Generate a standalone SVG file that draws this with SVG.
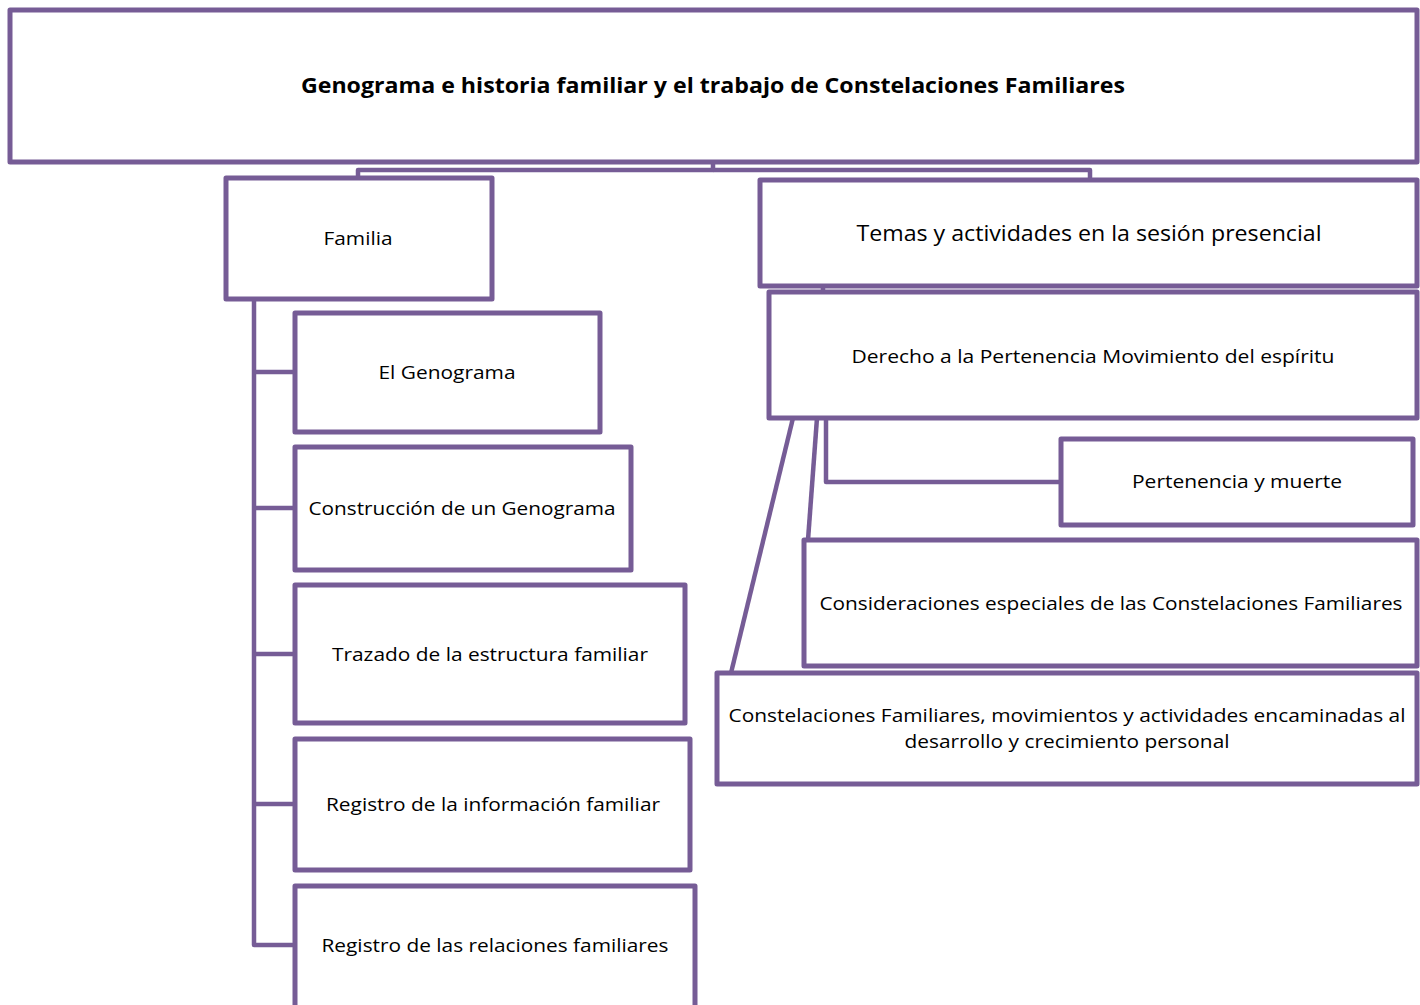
<svg xmlns="http://www.w3.org/2000/svg" width="1420" height="1005" viewBox="0 0 1420 1005">
<style>
.box{fill:#fff;stroke:#765C96;stroke-width:5;stroke-linejoin:round}
.con{fill:none;stroke:#765C96;stroke-width:4.5;stroke-linejoin:round}
.t{font-family:"Open Sans","Liberation Sans",sans-serif;font-size:19px;fill:#000;text-anchor:middle}
.b{font-weight:bold;font-size:22px}
.l{font-size:21.5px}
</style>
<rect width="1420" height="1005" fill="#fff"/>
<g id="connectors">
<path class="con" d="M713,162 V170 H358 V178"/>
<path class="con" d="M713,170 H1090 V180"/>
<path class="con" d="M823,286 V292"/>
<path class="con" d="M254,299 V945 H295"/>
<path class="con" d="M254,372 H295 M254,508 H295 M254,654 H295 M254,804 H295"/>
<path class="con" d="M826,418 V482 H1061"/>
<path class="con" d="M817,418 L808,540"/>
<path class="con" d="M793,418 L731,673"/>
</g>
<g id="title">
<rect class="box" x="10" y="10" width="1407" height="152"/>
<text class="t b" x="713" y="93" textLength="824" lengthAdjust="spacingAndGlyphs">Genograma e historia familiar y el trabajo de Constelaciones Familiares</text>
</g>
<g id="familia">
<rect class="box" x="226" y="178" width="266" height="121"/>
<text class="t" x="358" y="245" textLength="69" lengthAdjust="spacingAndGlyphs">Familia</text>
</g>
<g id="genograma">
<rect class="box" x="295" y="313" width="305" height="119"/>
<text class="t" x="447" y="379" textLength="137" lengthAdjust="spacingAndGlyphs">El Genograma</text>
</g>
<g id="construccion">
<rect class="box" x="295" y="447" width="336" height="123"/>
<text class="t" x="462" y="515" textLength="307" lengthAdjust="spacingAndGlyphs">Construcción de un Genograma</text>
</g>
<g id="trazado">
<rect class="box" x="295" y="585" width="390" height="138"/>
<text class="t" x="490" y="661" textLength="316" lengthAdjust="spacingAndGlyphs">Trazado de la estructura familiar</text>
</g>
<g id="registro-info">
<rect class="box" x="295" y="739" width="395" height="131"/>
<text class="t" x="493" y="811" textLength="334" lengthAdjust="spacingAndGlyphs">Registro de la información familiar</text>
</g>
<g id="registro-rel">
<rect class="box" x="295" y="886" width="400" height="125"/>
<text class="t" x="495" y="952" textLength="347" lengthAdjust="spacingAndGlyphs">Registro de las relaciones familiares</text>
</g>
<g id="temas">
<rect class="box" x="760" y="180" width="657" height="106"/>
<text class="t l" x="1089" y="241" textLength="465" lengthAdjust="spacingAndGlyphs">Temas y actividades en la sesión presencial</text>
</g>
<g id="derecho">
<rect class="box" x="769" y="292" width="648" height="126"/>
<text class="t" x="1093" y="363" textLength="483" lengthAdjust="spacingAndGlyphs">Derecho a la Pertenencia Movimiento del espíritu</text>
</g>
<g id="pertenencia">
<rect class="box" x="1061" y="439" width="352" height="86"/>
<text class="t" x="1237" y="488" textLength="210" lengthAdjust="spacingAndGlyphs">Pertenencia y muerte</text>
</g>
<g id="consideraciones">
<rect class="box" x="804" y="540" width="613" height="126"/>
<text class="t" x="1111" y="610" textLength="583" lengthAdjust="spacingAndGlyphs">Consideraciones especiales de las Constelaciones Familiares</text>
</g>
<g id="constelaciones">
<rect class="box" x="717" y="673" width="700" height="111"/>
<text class="t" x="1067" y="722" textLength="677" lengthAdjust="spacingAndGlyphs">Constelaciones Familiares, movimientos y actividades encaminadas al</text>
<text class="t" x="1067" y="748" textLength="325" lengthAdjust="spacingAndGlyphs">desarrollo y crecimiento personal</text>
</g>
</svg>
